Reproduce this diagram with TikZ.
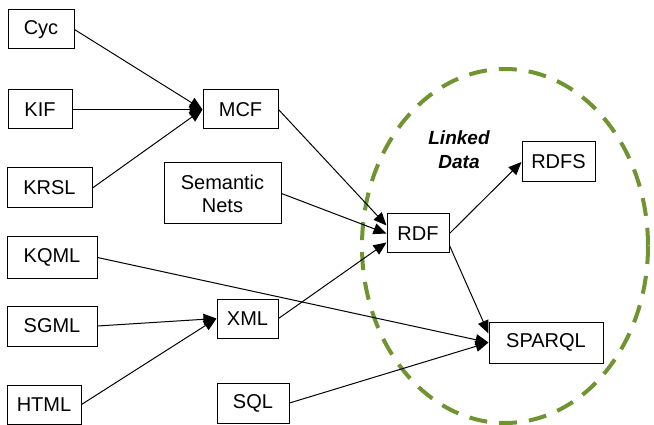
\documentclass[tikz,border=0pt]{standalone}
\usepackage{fontspec}
\setmainfont{Liberation Sans}
\usetikzlibrary{arrows.meta,calc}
\begin{document}
\begin{tikzpicture}[x=1pt,y=-1pt,
  box/.style={draw,line width=1pt,inner sep=0pt,font=\fontsize{20}{23}\selectfont,align=center},
  conn/.style={line width=1pt,-{Triangle[length=13pt,width=11pt]}},
  ring/.style={draw={rgb,255:red,112;green,148;blue,48},line width=4pt,dash pattern=on 18pt off 12pt}]
\useasboundingbox (0,0) rectangle (654,425);
\draw[ring] (505,246) ellipse [x radius=143, y radius=177];
\node[box,minimum width=66pt,minimum height=39pt] (cyc) at (41,29.5) {Cyc};
\node[box,minimum width=64pt,minimum height=39pt] (kif) at (40,109.5) {KIF};
\node[box,minimum width=85pt,minimum height=40pt] (krsl) at (49.5,188) {KRSL};
\node[box,minimum width=90pt,minimum height=41pt] (kqml) at (52,257.5) {KQML};
\node[box,minimum width=90pt,minimum height=40pt] (sgml) at (52,326) {SGML};
\node[box,minimum width=74pt,minimum height=39pt] (html) at (44,404.5) {HTML};
\node[box,minimum width=75pt,minimum height=39pt] (mcf) at (240.5,109.5) {MCF};
\node[box,minimum width=117pt,minimum height=61pt] (sem) at (222.5,193.5) {Semantic\\Nets};
\node[box,minimum width=61pt,minimum height=39pt] (xml) at (247.5,318.5) {XML};
\node[box,minimum width=72pt,minimum height=40pt] (sql) at (253,403) {SQL};
\node[box,minimum width=62pt,minimum height=39pt] (rdf) at (418,233.5) {RDF};
\node[box,minimum width=73pt,minimum height=40pt] (rdfs) at (558.5,162) {RDFS};
\node[box,minimum width=114pt,minimum height=41pt] (sparql) at (546,342.5) {SPARQL};
\node[font=\fontsize{19}{24}\selectfont\bfseries\itshape,align=center] (ld) at (459,150) {Linked\\Data};
\draw[conn] (cyc.east) -- (mcf.west);
\draw[conn] (kif.east) -- (mcf.west);
\draw[conn] (krsl.east) -- (mcf.west);
\draw[conn] (mcf.east) -- ($(rdf.west)+(0,-8)$);
\draw[conn] (sem.east) -- (rdf.west);
\draw[conn] (xml.east) -- ($(rdf.west)+(0,9)$);
\draw[conn] (sgml.east) -- (xml.west);
\draw[conn] (html.east) -- (xml.west);
\draw[conn] (kqml.east) -- (sparql.west);
\draw[conn] (sql.east) -- (sparql.west);
\draw[conn] (rdf.east) -- (rdfs.west);
\draw[conn] ($(rdf.east)+(0,12)$) -- ($(sparql.west)+(0,-9)$);
\end{tikzpicture}
\end{document}
